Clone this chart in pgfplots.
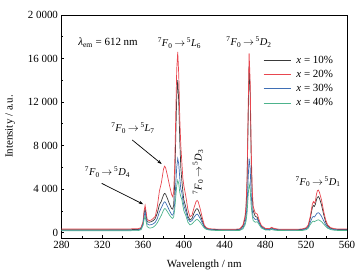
\documentclass[border=0pt]{standalone}
\usepackage{pgfplots}
\pgfplotsset{compat=1.18}
\usepackage{pgfplotstable}
\usepackage{fontspec}
\setmainfont{Liberation Serif}
\usetikzlibrary{arrows.meta}
\definecolor{cK}{HTML}{3A3A3A}
\definecolor{cR}{HTML}{E8464F}
\definecolor{cB}{HTML}{3F6FB5}
\definecolor{cG}{HTML}{4DB38C}
\pgfplotstableread{
x r k b g
280 320 250 200 160
300 320 250 200 160
320 320 250 200 160
340 330 260 210 170
355 350 280 230 180
358 450 380 320 260
360 1000 900 800 650
361 2000 1800 1500 1200
362 2500 2200 1900 1500
363 1900 1600 1300 1000
364 1200 1000 800 550
366 1100 950 700 420
368 1150 1000 720 430
370 1300 1100 800 500
372 1500 1300 950 650
374 2400 1800 1300 900
376 3800 2550 1900 1250
378 4600 2900 2300 1600
380 5800 3450 2700 2050
381 6100 3600 2830 2200
382 6000 3550 2780 2180
384 5200 3100 2400 1900
386 4300 2600 2000 1600
388 3500 2200 1650 1350
389 3300 2150 1600 1300
390 3700 2500 1800 1450
391 6000 4500 2700 2100
392 10500 8500 4300 3200
393 15000 12500 6000 4300
394 16600 14000 6800 4800
395 14500 12000 6300 4500
396 10500 8500 5000 3700
397 8000 6000 4000 3300
398 6500 4800 3700 3050
399 5000 3800 3000 2500
400 4300 3000 2500 2000
402 3300 2300 1900 1550
404 2100 1500 1250 950
406 1450 1150 1000 700
408 1600 1300 1100 800
410 2300 1800 1400 1000
412 2850 2150 1650 1180
413 2950 2200 1700 1200
414 2850 2100 1620 1150
416 2200 1650 1300 950
418 1400 1100 900 680
420 700 600 500 420
422 450 400 350 300
425 350 310 270 230
430 320 280 240 200
440 300 260 220 180
450 300 260 220 180
455 350 300 260 200
458 700 600 450 350
460 1500 1300 900 700
461 2500 2200 1400 1050
462 5000 4500 2500 1800
463 11000 10000 4800 3300
464 16500 15300 6800 4500
465 14000 13000 6000 4000
466 8000 7000 3600 2500
467 4000 3500 2100 1600
468 2400 2000 1400 1100
470 1800 1500 1200 950
472 1700 1400 1250 1000
474 1100 900 850 700
476 650 550 500 420
480 380 330 290 240
484 360 310 270 220
486 480 420 350 280
488 400 350 290 230
492 320 270 230 190
500 300 260 220 180
510 300 260 220 180
516 330 290 240 190
520 450 400 330 260
522 700 600 500 400
524 1500 1300 950 750
526 2600 2300 1400 1000
527 2850 2500 1480 1050
528 2700 2400 1430 1000
529 2900 2600 1550 1050
530 3500 3000 1700 1100
531 3850 3250 1800 1150
532 3900 3300 1820 1170
533 3700 3150 1750 1130
535 3000 2550 1500 1000
537 2000 1700 1100 800
539 1200 1000 750 580
541 700 600 480 400
544 450 400 330 270
548 350 310 260 210
552 320 280 230 190
560 320 280 230 190
}\spec
\newcommand{\tr}[2]{\textsuperscript{7}\textit{F}\textsubscript{0}\,$\rightarrow$\,\textsuperscript{5}\textit{#1}\textsubscript{#2}}
\begin{document}
\begin{tikzpicture}
\begin{axis}[
  at={(0,0)}, anchor=south west,
  scale only axis, width=285.5bp, height=223bp,
  xmin=280, xmax=560, ymin=-500, ymax=20000,
  scaled y ticks=false, scaled x ticks=false,
  xtick={280,320,...,560},
  xticklabels={280,320,360,400,440,480,520,560},
  minor x tick num=1,
  ytick={0,4000,8000,12000,16000,20000},
  yticklabels={0,4 000,8 000,12 000,16 000,2 0000},
  minor y tick num=1,
  tick pos=left, tick align=inside,
  major tick length=3bp, minor tick length=2bp,
  tick style={black, line width=0.6pt},
  axis line style={black, line width=0.8pt},
  ticklabel style={font=\fontsize{11}{13}\selectfont},
  /pgf/number format/assume math mode=true,
  xlabel={Wavelength / nm}, ylabel={Intensity / a.u.},
  label style={font=\fontsize{11}{13}\selectfont},
  xlabel style={at={(axis description cs:0.5,-0.121)}, anchor=center},
  ylabel style={at={(axis description cs:-0.18,0.5)}, anchor=center},
  clip=false,
  legend style={at={(axis description cs:0.706,0.825)}, anchor=north west, draw=none, fill=none,
    font=\fontsize{11}{13}\selectfont, inner sep=0pt, row sep=2.5bp,
    nodes={inner sep=1.5bp}},
  legend cell align=left,
  legend image code/.code={\draw[#1] (0bp,0bp) -- (27bp,0bp); \path (31bp,0bp);},
  every axis plot/.append style={line width=0.7pt},
]
\coordinate (SW) at (rel axis cs:0,0);
\addplot[cK] table[x=x,y=k]{\spec};
\addlegendentry{\textit{x} = 10\%}
\addplot[cR] table[x=x,y=r]{\spec};
\addlegendentry{\textit{x} = 20\%}
\addplot[cB] table[x=x,y=b]{\spec};
\addlegendentry{\textit{x} = 30\%}
\addplot[cG] table[x=x,y=g]{\spec};
\addlegendentry{\textit{x} = 40\%}

\node[font=\fontsize{11}{13}\selectfont, anchor=west] at (axis cs:293,17430) {\textit{λ}\textsubscript{em} = 612 nm};
\node[font=\fontsize{10.5}{12}\selectfont] at (axis cs:395.7,17430) {\tr{L}{6}};
\node[font=\fontsize{10.5}{12}\selectfont] at (axis cs:463.9,17520) {\tr{D}{2}};
\node[font=\fontsize{10.5}{12}\selectfont] at (axis cs:350.1,9600) {\tr{L}{7}};
\node[font=\fontsize{10.5}{12}\selectfont] at (axis cs:325.1,5570) {\tr{D}{4}};
\node[font=\fontsize{10.5}{12}\selectfont, rotate=90] at (axis cs:413.9,5570) {\tr{D}{3}};
\node[font=\fontsize{10.5}{12}\selectfont] at (axis cs:531.6,4670) {\tr{D}{1}};
\draw[black, line width=0.7pt, -{Stealth[length=4.5bp,width=3bp]}] (axis cs:349.4,8510) -- (axis cs:378.3,6300);
\draw[black, line width=0.7pt, -{Stealth[length=4.5bp,width=3bp]}] (axis cs:319.4,4525) -- (axis cs:360.2,2600);
\end{axis}
\pgfresetboundingbox
\path[use as bounding box] (SW) ++(-61.5bp,-37bp) rectangle ++(364bp,275bp);
\end{tikzpicture}
\end{document}
